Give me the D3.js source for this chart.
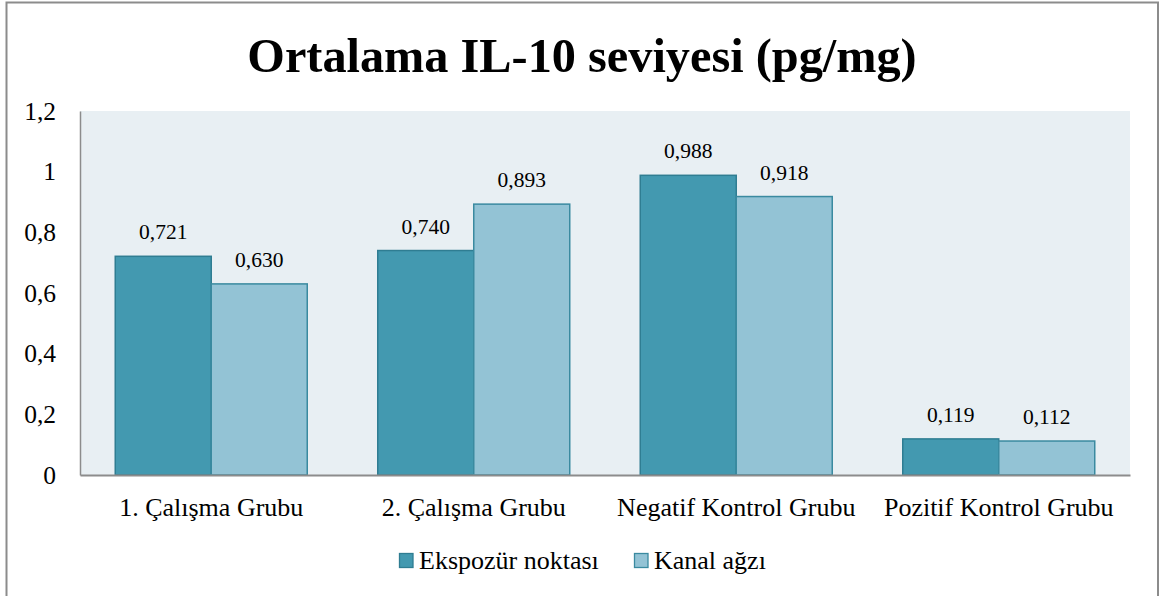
<!DOCTYPE html>
<html><head><meta charset="utf-8">
<script src="https://cdn.jsdelivr.net/npm/d3@7"></script>
<style>body{margin:0;background:#fff}svg{display:block}text{font-family:"Liberation Serif","Times New Roman",serif}</style>
</head><body>
<script>
const categories = ["1. Çalışma Grubu","2. Çalışma Grubu","Negatif Kontrol Grubu","Pozitif Kontrol Grubu"];
const seriesNames = ["Ekspozür noktası","Kanal ağzı"];
const ekspozur = [0.721,0.740,0.988,0.119];
const kanal = [0.630,0.893,0.918,0.112];
const yTicks = [0,0.2,0.4,0.6,0.8,1,1.2];
const colors = ["#4399B0","#93C3D5"];
const strokes = ["#2F7D92","#3A8AA0"];

const W=1171,H=596;
const svg=d3.select("body").append("svg").attr("width",W).attr("height",H);
svg.append("rect").attr("x",6.5).attr("y",2.5).attr("width",1151.5).attr("height",600).attr("fill","#fff").attr("stroke","#8c8c8c").attr("stroke-width",2);

const L=80,R=1130,T=111,B=475;
svg.append("rect").attr("x",L).attr("y",T).attr("width",R-L).attr("height",B-T).attr("fill","#E8EFF3");

const x=d3.scaleBand().domain(categories).range([L,R]).paddingInner(0.2686).paddingOuter(0.1343);
const y=d3.scaleLinear().domain([0,1.2]).range([B,T]);
const fmt=v=>String(v).replace(".",",");

const yAxis=svg.append("g").attr("transform",`translate(${L},0)`)
 .call(d3.axisLeft(y).tickValues(yTicks).tickFormat(fmt).tickSize(0).tickPadding(24));
yAxis.select(".domain").attr("stroke","#8c8c8c").attr("stroke-width",1.5);
yAxis.selectAll("text").attr("font-family",null).attr("font-size",25.5).attr("fill","#000");
yAxis.attr("font-family",null);

const bw=x.bandwidth()/2;
const series=[ekspozur,kanal];
series.forEach((vals,si)=>{
  svg.append("g").selectAll("rect").data(categories).join("rect")
   .attr("x",(c)=>x(c)+si*bw).attr("y",(c,i)=>y(vals[i]))
   .attr("width",bw).attr("height",(c,i)=>B-y(vals[i]))
   .attr("fill",colors[si]).attr("stroke",strokes[si]).attr("stroke-width",1.5);
  svg.append("g").selectAll("text").data(categories).join("text")
   .attr("x",(c)=>x(c)+si*bw+bw/2).attr("y",(c,i)=>y(vals[i])-17)
   .attr("text-anchor","middle").attr("font-size",21.5)
   .text((c,i)=>vals[i].toFixed(3).replace(".",","));
});

const xAxis=svg.append("g").attr("transform",`translate(0,${B})`)
 .call(d3.axisBottom(x).tickSize(0).tickPadding(0));
xAxis.attr("font-family",null);
xAxis.select(".domain").attr("stroke","#8c8c8c").attr("stroke-width",2);
xAxis.selectAll("text").attr("font-family",null).attr("font-size",26).attr("fill","#000").attr("dy",null).attr("y",41);

svg.append("text").attr("x",582).attr("y",72).attr("text-anchor","middle")
 .attr("font-weight","bold").attr("font-size",48.3).text("Ortalama IL-10 seviyesi (pg/mg)");

const leg=[{x:399},{x:634}];
seriesNames.forEach((n,i)=>{
  svg.append("rect").attr("x",leg[i].x+0.5).attr("y",553.5).attr("width",13.5).attr("height",14)
   .attr("fill",colors[i]).attr("stroke",strokes[i]).attr("stroke-width",1.3);
  svg.append("text").attr("x",leg[i].x+20).attr("y",569).attr("font-size",26).text(n);
});
</script>
</body></html>
